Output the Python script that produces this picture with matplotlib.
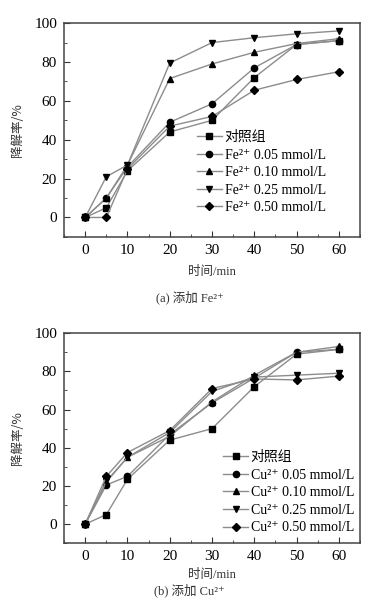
import matplotlib.pyplot as plt
from matplotlib.ticker import MultipleLocator

plt.rcParams['font.family'] = ['Liberation Serif', 'DejaVu Serif', 'Noto Sans CJK SC']

# 时间点
time_min = [0, 5, 10, 20, 30, 40, 50, 60]

# (a) 添加 Fe2+
fe_control = [0, 5, 24, 44, 50, 72, 89, 91]
fe_005 = [0, 10, 26, 49, 58.5, 77, 89, 91]
fe_010 = [0, 10, 27, 71.5, 79, 85, 89.5, 92]
fe_025 = [0, 21, 27, 79.5, 90, 92.5, 94.5, 96]
fe_050 = [0, 0, 25, 47, 52, 65.5, 71, 75]

# (b) 添加 Cu2+
cu_control = [0, 5, 23.5, 44, 50, 72, 89, 91.5]
cu_005 = [0, 20.5, 25, 47, 63.5, 76.5, 90, 91.5]
cu_010 = [0, 22, 35, 46, 64, 78, 90, 93]
cu_025 = [0, 22.5, 35, 48, 69.5, 77, 78, 79]
cu_050 = [0, 25, 37.5, 49, 71, 76, 75.5, 77.5]

fe_labels = ['对照组', 'Fe²⁺ 0.05 mmol/L', 'Fe²⁺ 0.10 mmol/L',
             'Fe²⁺ 0.25 mmol/L', 'Fe²⁺ 0.50 mmol/L']
cu_labels = ['对照组', 'Cu²⁺ 0.05 mmol/L', 'Cu²⁺ 0.10 mmol/L',
             'Cu²⁺ 0.25 mmol/L', 'Cu²⁺ 0.50 mmol/L']
markers = ['s', 'o', '^', 'v', 'D']

fig = plt.figure(figsize=(3.79, 6.09), dpi=100)
ax1 = fig.add_axes([0.169, 0.611, 0.781, 0.351])
ax2 = fig.add_axes([0.169, 0.108, 0.781, 0.345])


def draw_panel(ax, series, labels, legend_anchor):
    for ys, lab, mk in zip(series, labels, markers):
        ax.plot(time_min, ys, color='#8c8c8c', linewidth=1.0, marker=mk,
                markersize=4.5 if mk != 'D' else 4, markerfacecolor='black',
                markeredgecolor='black', label=lab)
    ax.set_xlim(-5, 65)
    ax.set_ylim(-10, 100)
    ax.xaxis.set_major_locator(MultipleLocator(10))
    ax.xaxis.set_minor_locator(MultipleLocator(5))
    ax.yaxis.set_major_locator(MultipleLocator(20))
    ax.yaxis.set_minor_locator(MultipleLocator(10))
    ax.set_yticks([0, 20, 40, 60, 80, 100])
    ax.tick_params(which='both', direction='in', top=False, right=False,
                   labelsize=11, color='#333333', pad=5)
    ax.tick_params(which='major', length=4)
    ax.tick_params(which='minor', length=2.5)
    for sp in ax.spines.values():
        sp.set_color('#444444')
        sp.set_linewidth(1.1)
    ax.set_ylabel('降解率/%', fontsize=9, family='Noto Sans CJK SC', color='#333333')
    ax.set_xlabel('时间/min', fontsize=9, color='#333333')
    ax.legend(loc='upper left', bbox_to_anchor=legend_anchor, frameon=False,
              fontsize=10, borderpad=0, borderaxespad=0, handlelength=1.8,
              handletextpad=0.2, labelspacing=0.33)


draw_panel(ax1, [fe_control, fe_005, fe_010, fe_025, fe_050], fe_labels, (0.449, 0.497))
draw_panel(ax2, [cu_control, cu_005, cu_010, cu_025, cu_050], cu_labels, (0.537, 0.44))

ax1.xaxis.set_label_coords(0.5, -0.135)
ax2.xaxis.set_label_coords(0.5, -0.125)
ax1.yaxis.set_label_coords(-0.135, 0.5)
ax2.yaxis.set_label_coords(-0.135, 0.5)

fig.text(0.5, 1 - 297 / 609, '(a) 添加 Fe²⁺', ha='center', va='center', fontsize=9,
         color='#333333')
fig.text(0.5, 1 - 590 / 609, '(b) 添加 Cu²⁺', ha='center', va='center', fontsize=9,
         color='#333333')

fig.savefig('out.png', dpi=100)
